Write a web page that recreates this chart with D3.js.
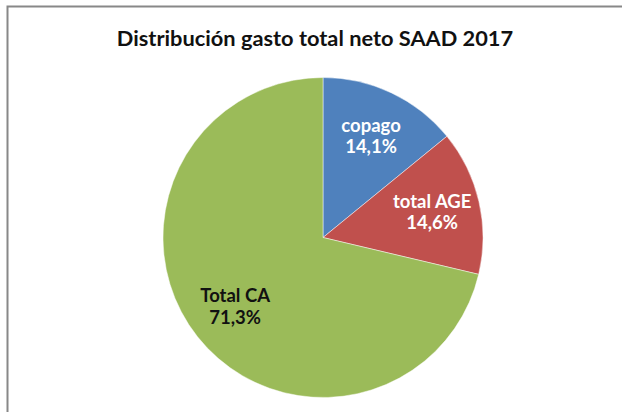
<!DOCTYPE html>
<html>
<head>
<meta charset="utf-8">
<script src="https://cdn.jsdelivr.net/npm/d3@7"></script>
<style>
  html, body { margin: 0; padding: 0; background: #fff; }
  svg { display: block; font-family: Lato, "Open Sans", sans-serif; }
</style>
</head>
<body>
<div id="chart"></div>
<script>
// chart data
var title = "Distribución gasto total neto SAAD 2017"
var categories = ["copago", "total AGE", "Total CA"]
var shares = [14.1, 14.6, 71.3]
var labelColors = ["#ffffff", "#ffffff", "#111111"]

var width = 622
var height = 412

var svg = d3.select("#chart").append("svg")
  .attr("width", width)
  .attr("height", height)

// chart frame, only top and left edges are visible in the crop
svg.append("rect")
  .attr("x", 7.5)
  .attr("y", 6.5)
  .attr("width", 800)
  .attr("height", 600)
  .attr("fill", "none")
  .attr("stroke", "#888888")
  .attr("stroke-width", 2)

svg.append("text")
  .attr("x", 315)
  .attr("y", 46)
  .attr("text-anchor", "middle")
  .attr("font-size", 21.8)
  .attr("font-weight", 700)
  .attr("fill", "#111")
  .text(title)

var cx = 323, cy = 237.5, radius = 160

var color = d3.scaleOrdinal()
  .domain(categories)
  .range(["#4f81bd", "#c0504d", "#9bbb59"])

var pie = d3.pie().sort(null).value(d => d.value)
var data = categories.map((c, i) => ({ name: c, value: shares[i], labelColor: labelColors[i] }))
var arcs = pie(data)

var arc = d3.arc().innerRadius(0).outerRadius(radius)
var labelArc = d3.arc().innerRadius(112).outerRadius(112)

var g = svg.append("g").attr("transform", `translate(${cx},${cy})`)

g.selectAll("path")
  .data(arcs)
  .enter()
  .append("path")
  .attr("d", arc)
  .attr("fill", d => color(d.data.name))
  .attr("stroke", "#ffffff")
  .attr("stroke-opacity", 0.6)
  .attr("stroke-width", 0.8)

var fmt = v => d3.format(".1f")(v).replace(".", ",") + "%"

var labels = g.selectAll("text.label")
  .data(arcs)
  .enter()
  .append("text")
  .attr("class", "label")
  .attr("transform", d => `translate(${labelArc.centroid(d)})`)
  .attr("text-anchor", "middle")
  .attr("font-size", 18.5)
  .attr("font-weight", 700)
  .attr("fill", d => d.data.labelColor)

labels.append("tspan")
  .attr("x", 0)
  .attr("y", -4.5)
  .text(d => d.data.name)

labels.append("tspan")
  .attr("x", 0)
  .attr("y", 17)
  .text(d => fmt(d.data.value))
</script>
</body>
</html>
